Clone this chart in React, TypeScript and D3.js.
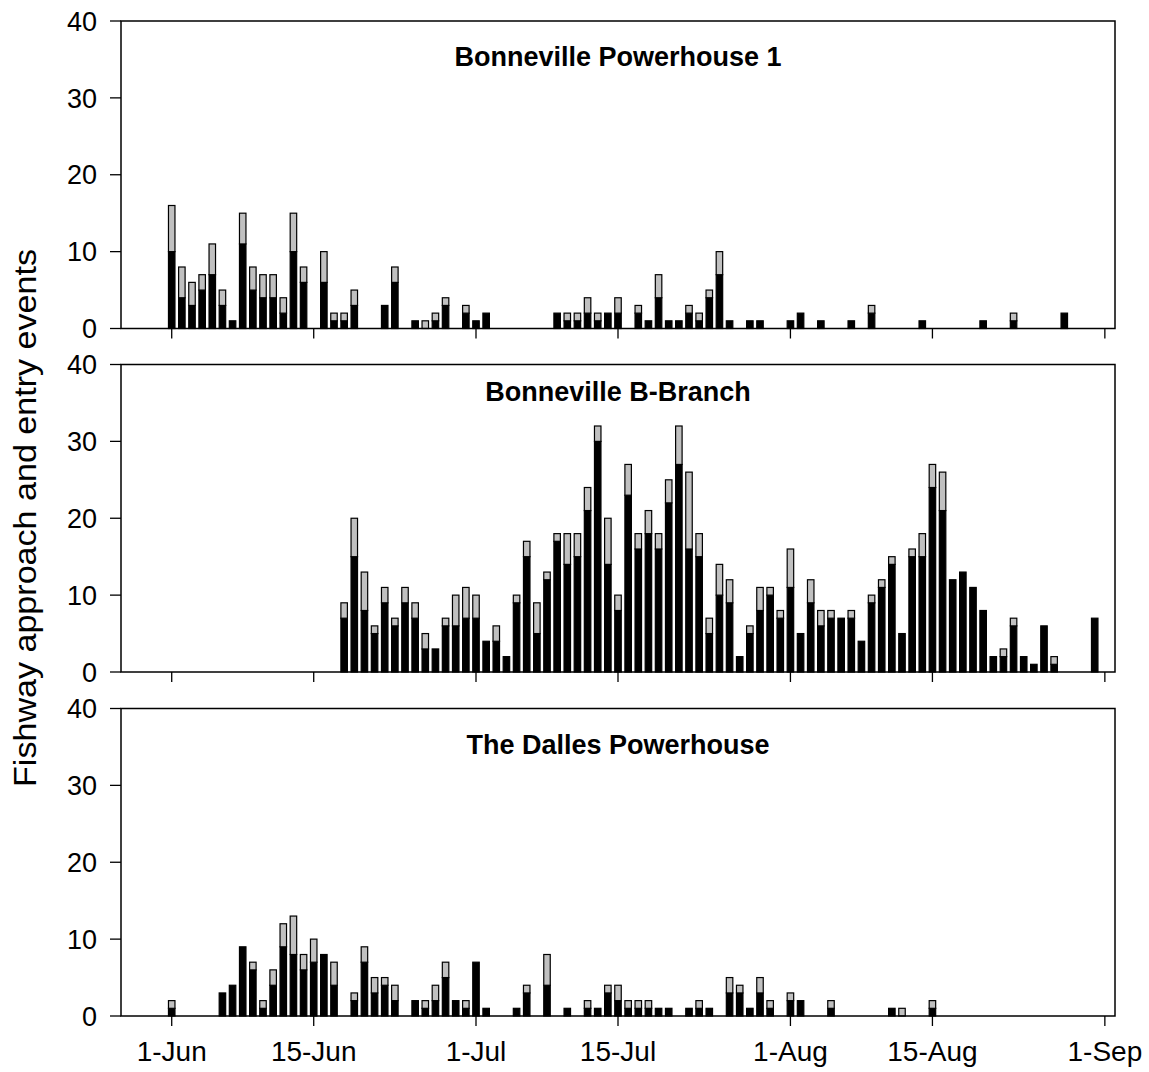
import React from "react";
import * as d3 from "d3";

// Daily fishway approach/entry events: black = first segment, gray = stacked remainder
const ph1Dates = ["06-01","06-02","06-03","06-04","06-05","06-06","06-07","06-08","06-09","06-10","06-11","06-12","06-13","06-14","06-16","06-17","06-18","06-19","06-22","06-23","06-25","06-26","06-27","06-28","06-30","07-01","07-02","07-09","07-10","07-11","07-12","07-13","07-14","07-15","07-17","07-18","07-19","07-20","07-21","07-22","07-23","07-24","07-25","07-26","07-28","07-29","08-01","08-02","08-04","08-07","08-09","08-14","08-20","08-23","08-28"];
const ph1Black = [10,4,3,5,7,3,1,11,5,4,4,2,10,6,6,1,1,3,3,6,1,0,1,3,2,1,2,2,1,1,2,1,2,2,2,1,4,1,1,2,1,4,7,1,1,1,1,2,1,1,2,1,1,1,2];
const ph1Gray = [6,4,3,2,4,2,0,4,3,3,3,2,5,2,4,1,1,2,0,2,0,1,1,1,1,0,0,0,1,1,2,1,0,2,1,0,3,0,0,1,1,1,3,0,0,0,0,0,0,0,1,0,0,1,0];

const bbDates = ["06-18","06-19","06-20","06-21","06-22","06-23","06-24","06-25","06-26","06-27","06-28","06-29","06-30","07-01","07-02","07-03","07-04","07-05","07-06","07-07","07-08","07-09","07-10","07-11","07-12","07-13","07-14","07-15","07-16","07-17","07-18","07-19","07-20","07-21","07-22","07-23","07-24","07-25","07-26","07-27","07-28","07-29","07-30","07-31","08-01","08-02","08-03","08-04","08-05","08-06","08-07","08-08","08-09","08-10","08-11","08-12","08-13","08-14","08-15","08-16","08-17","08-18","08-19","08-20","08-21","08-22","08-23","08-24","08-25","08-26","08-27","08-31"];
const bbBlack = [7,15,8,5,9,6,9,7,3,3,6,6,7,7,4,4,2,9,15,5,12,17,14,15,21,30,14,8,23,16,18,16,22,27,16,15,5,10,9,2,5,8,10,7,11,5,9,6,7,7,7,4,9,11,14,5,15,15,24,21,12,13,11,8,2,2,6,2,1,6,1,7];
const bbGray = [2,5,5,1,2,1,2,2,2,0,1,4,4,3,0,2,0,1,2,4,1,1,4,3,3,2,6,2,4,2,3,2,3,5,10,3,2,4,3,0,1,3,1,1,5,0,3,2,1,0,1,0,1,1,1,0,1,3,3,5,0,0,0,0,0,1,1,0,0,0,1,0];

const tdDates = ["06-01","06-06","06-07","06-08","06-09","06-10","06-11","06-12","06-13","06-14","06-15","06-16","06-17","06-19","06-20","06-21","06-22","06-23","06-25","06-26","06-27","06-28","06-29","06-30","07-01","07-02","07-05","07-06","07-08","07-10","07-12","07-13","07-14","07-15","07-16","07-17","07-18","07-19","07-20","07-22","07-23","07-24","07-26","07-27","07-28","07-29","07-30","08-01","08-02","08-05","08-11","08-12","08-15"];
const tdBlack = [1,3,4,9,6,1,4,9,8,6,7,8,4,2,7,3,4,2,2,1,2,5,2,1,7,1,1,3,4,1,1,1,3,2,1,1,1,1,1,1,1,1,3,3,1,3,1,2,2,1,1,0,1];
const tdGray = [1,0,0,0,1,1,2,3,5,2,3,0,3,1,2,2,1,2,0,1,2,2,0,1,0,0,0,1,4,0,1,0,1,2,1,1,1,0,0,0,1,0,2,1,0,2,1,1,0,1,0,1,1];

const panelTitles = ["Bonneville Powerhouse 1", "Bonneville B-Branch", "The Dalles Powerhouse"];
const yTicks = [0, 10, 20, 30, 40];
const xTickDates = ["06-01", "06-15", "07-01", "07-15", "08-01", "08-15", "09-01"];
const xTickLabels = ["1-Jun", "15-Jun", "1-Jul", "15-Jul", "1-Aug", "15-Aug", "1-Sep"];
const yAxisTitle = "Fishway approach and entry events";

const parseDay = (s: string) => d3.utcParse("%Y-%m-%d")("2000-" + s) as Date;

const panels = [
  { title: panelTitles[0], dates: ph1Dates, black: ph1Black, gray: ph1Gray },
  { title: panelTitles[1], dates: bbDates, black: bbBlack, gray: bbGray },
  { title: panelTitles[2], dates: tdDates, black: tdBlack, gray: tdGray },
];

const W = 1149;
const H = 1072;
const plotLeft = 121;
const plotRight = 1115;
const panelTops = [21, 364.5, 708.5];
const panelH = 307.5;
const titleOffsets = [45, 36, 45];
const font = "'Liberation Sans', Arial, Helvetica, sans-serif";
const grayFill = "#c0c0c0";

export default function App() {
  const x = d3
    .scaleUtc()
    .domain([parseDay("05-27"), parseDay("09-02")])
    .range([plotLeft, plotRight]);
  const dayW = x(parseDay("06-02")) - x(parseDay("06-01"));
  const barW = dayW * 0.64;

  return (
    <svg
      width={W}
      height={H}
      viewBox={`0 0 ${W} ${H}`}
      style={{ position: "absolute", left: 0, top: 0, background: "#fff" }}
      fontFamily={font}
    >
      <rect x={0} y={0} width={W} height={H} fill="#fff" />
      {panels.map((p, pi) => {
        const top = panelTops[pi];
        const bottom = top + panelH;
        const y = d3.scaleLinear().domain([0, 40]).range([bottom, top]);
        const isLast = pi === panels.length - 1;
        return (
          <g key={pi}>
            {p.dates.map((ds, i) => {
              const cx = x(parseDay(ds));
              const b = p.black[i];
              const g = p.gray[i];
              return (
                <g key={ds}>
                  {b > 0 && (
                    <rect
                      x={cx - barW / 2}
                      y={y(b)}
                      width={barW}
                      height={y(0) - y(b)}
                      fill="#000"
                      stroke="#000"
                      strokeWidth={1.2}
                    />
                  )}
                  {g > 0 && (
                    <rect
                      x={cx - barW / 2}
                      y={y(b + g)}
                      width={barW}
                      height={y(b) - y(b + g)}
                      fill={grayFill}
                      stroke="#000"
                      strokeWidth={1.2}
                    />
                  )}
                </g>
              );
            })}
            <rect
              x={plotLeft}
              y={top}
              width={plotRight - plotLeft}
              height={panelH}
              fill="none"
              stroke="#000"
              strokeWidth={1.5}
            />
            {yTicks.map((t) => (
              <g key={t}>
                <line x1={plotLeft - 11} x2={plotLeft} y1={y(t)} y2={y(t)} stroke="#000" strokeWidth={1.3} />
                <text
                  x={97}
                  y={y(t)}
                  dy="0.36em"
                  textAnchor="end"
                  fontSize={27}
                  fill="#000"
                >
                  {t}
                </text>
              </g>
            ))}
            {xTickDates.map((ds, i) => {
              const tx = x(parseDay(ds));
              return (
                <g key={ds}>
                  <line x1={tx} x2={tx} y1={bottom} y2={bottom + 10} stroke="#000" strokeWidth={1.3} />
                  {isLast && (
                    <text x={tx} y={bottom + 45} textAnchor="middle" fontSize={28} fill="#000">
                      {xTickLabels[i]}
                    </text>
                  )}
                </g>
              );
            })}
            <text
              x={(plotLeft + plotRight) / 2}
              y={top + titleOffsets[pi]}
              textAnchor="middle"
              fontSize={27}
              fontWeight="bold"
              fill="#000"
            >
              {p.title}
            </text>
          </g>
        );
      })}
      <text
        transform={`translate(36, 518) rotate(-90)`}
        textAnchor="middle"
        fontSize={31}
        textLength={538}
        lengthAdjust="spacingAndGlyphs"
        fill="#000"
      >
        {yAxisTitle}
      </text>
    </svg>
  );
}
